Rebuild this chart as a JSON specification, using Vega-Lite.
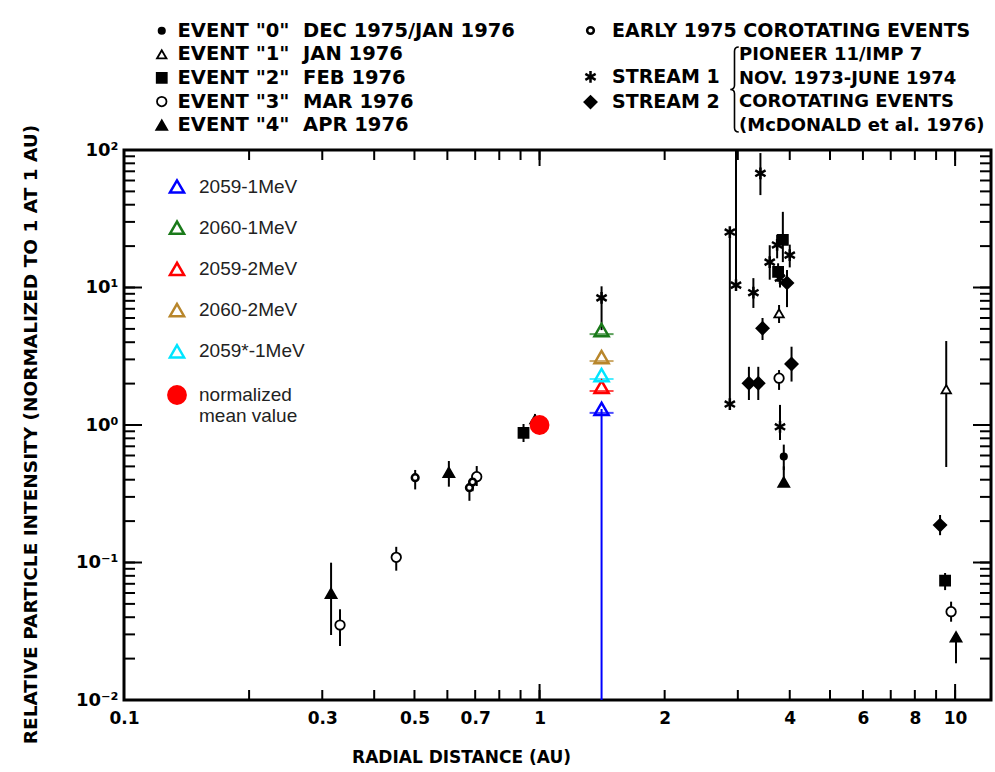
{
  "$schema": "https://vega.github.io/schema/vega-lite/v6.json",
  "width": 867,
  "height": 550,
  "autosize": {"type": "none"},
  "padding": {"left": 124, "top": 150, "right": 4, "bottom": 72},
  "background": "white",
  "config": {
    "view": {"stroke": "black", "strokeWidth": 3},
    "legend": {"padding": 0, "labelLimit": 1000}
  },
  "datasets": {
    "pts": [
      {"kind": "event", "label": "EVENT \"0\"\u00a0 DEC 1975/JAN 1976", "r": 1.02, "v": 0.97, "lo": 0.86, "hi": 1.1},
      {"kind": "event", "label": "EVENT \"0\"\u00a0 DEC 1975/JAN 1976", "r": 3.87, "v": 0.59, "lo": 0.47, "hi": 0.72},
      {"kind": "event", "label": "EVENT \"1\"\u00a0 JAN 1976", "r": 0.975, "v": 1.1, "lo": 1.0, "hi": 1.2},
      {"kind": "event", "label": "EVENT \"1\"\u00a0 JAN 1976", "r": 3.77, "v": 6.49, "lo": 5.52, "hi": 7.46},
      {"kind": "event", "label": "EVENT \"1\"\u00a0 JAN 1976", "r": 9.52, "v": 1.82, "lo": 0.495, "hi": 4.08},
      {"kind": "event", "label": "EVENT \"2\"\u00a0 FEB 1976", "r": 0.915, "v": 0.875, "lo": 0.752, "hi": 1.017},
      {"kind": "event", "label": "EVENT \"2\"\u00a0 FEB 1976", "r": 3.85, "v": 22.2, "lo": 15.3, "hi": 35.5},
      {"kind": "event", "label": "EVENT \"2\"\u00a0 FEB 1976", "r": 3.75, "v": 13, "lo": 11, "hi": 15},
      {"kind": "event", "label": "EVENT \"2\"\u00a0 FEB 1976", "r": 9.46, "v": 0.0737, "lo": 0.063, "hi": 0.0839},
      {"kind": "event", "label": "EVENT \"3\"\u00a0 MAR 1976", "r": 0.331, "v": 0.0351, "lo": 0.0247, "hi": 0.0457},
      {"kind": "event", "label": "EVENT \"3\"\u00a0 MAR 1976", "r": 0.452, "v": 0.109, "lo": 0.0872, "hi": 0.13},
      {"kind": "event", "label": "EVENT \"3\"\u00a0 MAR 1976", "r": 0.706, "v": 0.421, "lo": 0.36, "hi": 0.503},
      {"kind": "event", "label": "EVENT \"3\"\u00a0 MAR 1976", "r": 3.77, "v": 2.19, "lo": 1.8, "hi": 2.51},
      {"kind": "event", "label": "EVENT \"3\"\u00a0 MAR 1976", "r": 9.78, "v": 0.0439, "lo": 0.0371, "hi": 0.0519},
      {"kind": "event", "label": "EVENT \"4\"\u00a0 APR 1976", "r": 0.315, "v": 0.0597, "lo": 0.0297, "hi": 0.0997},
      {"kind": "event", "label": "EVENT \"4\"\u00a0 APR 1976", "r": 0.605, "v": 0.453, "lo": 0.356, "hi": 0.547},
      {"kind": "event", "label": "EVENT \"4\"\u00a0 APR 1976", "r": 3.87, "v": 0.385, "lo": 0.36, "hi": 0.5},
      {"kind": "event", "label": "EVENT \"4\"\u00a0 APR 1976", "r": 10.05, "v": 0.0288, "lo": 0.0185, "hi": 0.031},
      {"kind": "corot", "label": "EARLY 1975 COROTATING EVENTS", "r": 0.502, "v": 0.414, "lo": 0.34, "hi": 0.471},
      {"kind": "corot", "label": "EARLY 1975 COROTATING EVENTS", "r": 0.678, "v": 0.35, "lo": 0.281, "hi": 0.387},
      {"kind": "corot", "label": "EARLY 1975 COROTATING EVENTS", "r": 0.69, "v": 0.385, "lo": 0.33, "hi": 0.43},
      {"kind": "corot", "label": "STREAM 1", "r": 1.41, "v": 8.4, "lo": 4.9, "hi": 10.2},
      {"kind": "corot", "label": "STREAM 1", "r": 2.87, "v": 25.3, "lo": 1.42, "hi": 25.3},
      {"kind": "corot", "label": "STREAM 1", "r": 2.87, "v": 1.42, "lo": 1.42, "hi": 1.42},
      {"kind": "corot", "label": "STREAM 1", "r": 2.97, "v": 10.4, "lo": 10.4, "hi": 100},
      {"kind": "corot", "label": "STREAM 1", "r": 3.4, "v": 67.7, "lo": 47, "hi": 95},
      {"kind": "corot", "label": "STREAM 1", "r": 3.27, "v": 9.17, "lo": 7.1, "hi": 11.7},
      {"kind": "corot", "label": "STREAM 1", "r": 3.58, "v": 15.3, "lo": 11.4, "hi": 20.3},
      {"kind": "corot", "label": "STREAM 1", "r": 3.73, "v": 20.4, "lo": 16.3, "hi": 24.2},
      {"kind": "corot", "label": "STREAM 1", "r": 4.0, "v": 17.2, "lo": 14, "hi": 20.5},
      {"kind": "corot", "label": "STREAM 1", "r": 3.79, "v": 11.7, "lo": 10, "hi": 13.5},
      {"kind": "corot", "label": "STREAM 1", "r": 3.79, "v": 0.97, "lo": 0.778, "hi": 1.4},
      {"kind": "corot", "label": "STREAM 2", "r": 3.44, "v": 5.05, "lo": 4.15, "hi": 6.0},
      {"kind": "corot", "label": "STREAM 2", "r": 3.19, "v": 2.01, "lo": 1.52, "hi": 2.65},
      {"kind": "corot", "label": "STREAM 2", "r": 3.36, "v": 2.01, "lo": 1.52, "hi": 2.65},
      {"kind": "corot", "label": "STREAM 2", "r": 4.04, "v": 2.78, "lo": 2.07, "hi": 3.71},
      {"kind": "corot", "label": "STREAM 2", "r": 3.94, "v": 10.8, "lo": 7.2, "hi": 13.4},
      {"kind": "corot", "label": "STREAM 2", "r": 9.2, "v": 0.187, "lo": 0.158, "hi": 0.2215}
    ],
    "he": [
      {"label": "2059-1MeV", "r": 1.41, "v": 1.31, "lo": 0.01, "hi": 1.31},
      {"label": "2060-1MeV", "r": 1.41, "v": 4.9, "lo": 4.9, "hi": 4.9},
      {"label": "2059-2MeV", "r": 1.41, "v": 1.89, "lo": 1.89, "hi": 1.89},
      {"label": "2060-2MeV", "r": 1.41, "v": 3.12, "lo": 3.12, "hi": 3.12},
      {"label": "2059*-1MeV", "r": 1.41, "v": 2.31, "lo": 2.31, "hi": 2.31},
      {"label": "normalized mean value", "r": 1.0, "v": 1.0, "lo": 1.0, "hi": 1.0}
    ],
    "xt": [
      {"t": 0.2, "k": "minor"}, {"t": 0.3, "k": "minor"}, {"t": 0.4, "k": "minor"}, {"t": 0.5, "k": "minor"},
      {"t": 0.6, "k": "minor"}, {"t": 0.7, "k": "minor"}, {"t": 0.8, "k": "minor"}, {"t": 0.9, "k": "minor"},
      {"t": 1, "k": "major"}, {"t": 2, "k": "minor"}, {"t": 3, "k": "minor"}, {"t": 4, "k": "minor"},
      {"t": 5, "k": "minor"}, {"t": 6, "k": "minor"}, {"t": 7, "k": "minor"}, {"t": 8, "k": "minor"},
      {"t": 9, "k": "minor"}, {"t": 10, "k": "major"}
    ],
    "yt": [
      {"t": 0.02, "k": "minor"}, {"t": 0.03, "k": "minor"}, {"t": 0.04, "k": "minor"}, {"t": 0.05, "k": "minor"},
      {"t": 0.06, "k": "minor"}, {"t": 0.07, "k": "minor"}, {"t": 0.08, "k": "minor"}, {"t": 0.09, "k": "minor"},
      {"t": 0.1, "k": "major"}, {"t": 0.2, "k": "minor"}, {"t": 0.3, "k": "minor"}, {"t": 0.4, "k": "minor"},
      {"t": 0.5, "k": "minor"}, {"t": 0.6, "k": "minor"}, {"t": 0.7, "k": "minor"}, {"t": 0.8, "k": "minor"},
      {"t": 0.9, "k": "minor"}, {"t": 1, "k": "major"}, {"t": 2, "k": "minor"}, {"t": 3, "k": "minor"},
      {"t": 4, "k": "minor"}, {"t": 5, "k": "minor"}, {"t": 6, "k": "minor"}, {"t": 7, "k": "minor"},
      {"t": 8, "k": "minor"}, {"t": 9, "k": "minor"}, {"t": 10, "k": "major"}, {"t": 20, "k": "minor"},
      {"t": 30, "k": "minor"}, {"t": 40, "k": "minor"}, {"t": 50, "k": "minor"}, {"t": 60, "k": "minor"},
      {"t": 70, "k": "minor"}, {"t": 80, "k": "minor"}, {"t": 90, "k": "minor"}
    ],
    "brace": [{"b": "brace"}],
    "note": [
      {"n": "PIONEER 11/IMP 7"},
      {"n": "NOV. 1973-JUNE 1974"},
      {"n": "COROTATING EVENTS"},
      {"n": "(McDONALD et al. 1976)"}
    ]
  },
  "layer": [
    {
      "data": {"name": "pts"},
      "mark": {"type": "rule", "color": "black", "strokeWidth": 2},
      "encoding": {
        "x": {
          "field": "r", "type": "quantitative",
          "scale": {"type": "log", "domain": [0.1, 12.2], "nice": false},
          "axis": {
            "orient": "bottom",
            "values": [0.1, 0.2, 0.3, 0.4, 0.5, 0.6, 0.7, 0.8, 0.9, 1, 2, 3, 4, 5, 6, 7, 8, 9, 10],
            "domain": false, "ticks": false, "tickSize": 0, "grid": false,
            "labelPadding": 10,
            "format": "~g",
            "labelExpr": "(datum.value === 0.1 || datum.value === 0.3 || datum.value === 0.5 || datum.value === 0.7 || datum.value === 1 || datum.value === 2 || datum.value === 4 || datum.value === 6 || datum.value === 8 || datum.value === 10) ? datum.label : ''",
            "labelFont": "DejaVu Sans", "labelFontWeight": "bold", "labelFontSize": 17, "labelColor": "black",
            "labelFlush": false, "labelOverlap": false,
            "title": "RADIAL DISTANCE (AU)",
            "titleFont": "DejaVu Sans", "titleFontWeight": "bold", "titleFontSize": 17, "titleColor": "black",
            "titleX": 337, "titleY": 62, "titleBaseline": "alphabetic", "titleAlign": "center"
          }
        },
        "y": {
          "field": "lo", "type": "quantitative",
          "scale": {"type": "log", "domain": [0.01, 100], "nice": false},
          "axis": {
            "orient": "left",
            "values": [0.01, 0.1, 1, 10, 100],
            "domain": false, "ticks": false, "tickSize": 0, "grid": false,
            "labelPadding": 6,
            "labelExpr": "datum.value === 100 ? '10²' : datum.value === 10 ? '10¹' : datum.value === 1 ? '10⁰' : datum.value === 0.1 ? '10⁻¹' : datum.value === 0.01 ? '10⁻²' : ''",
            "labelFont": "DejaVu Sans", "labelFontWeight": "bold", "labelFontSize": 18, "labelColor": "black",
            "labelFlush": false, "labelOverlap": false,
            "title": "RELATIVE PARTICLE INTENSITY (NORMALIZED TO 1 AT 1 AU)",
            "titleFont": "DejaVu Sans", "titleFontWeight": "bold", "titleFontSize": 18.5, "titleColor": "black",
            "titleX": -88, "titleY": 284, "titleBaseline": "alphabetic", "titleAlign": "center", "titleAngle": 270
          }
        },
        "y2": {"field": "hi"}
      }
    },
    {
      "data": {"name": "xt"},
      "mark": {"type": "rule", "color": "black", "strokeWidth": 2, "y2Offset": -10},
      "encoding": {
        "x": {"field": "t", "type": "quantitative", "scale": {"type": "log", "domain": [0.1, 12.2], "nice": false}, "axis": null},
        "y": {"datum": 0.01, "type": "quantitative", "scale": {"type": "log", "domain": [0.01, 100], "nice": false}, "axis": null},
        "y2": {"datum": 0.01}
      }
    },
    {
      "data": {"name": "xt"},
      "mark": {"type": "rule", "color": "black", "strokeWidth": 2, "y2Offset": 10},
      "encoding": {
        "x": {"field": "t", "type": "quantitative", "scale": {"type": "log", "domain": [0.1, 12.2], "nice": false}, "axis": null},
        "y": {"datum": 100, "type": "quantitative", "scale": {"type": "log", "domain": [0.01, 100], "nice": false}, "axis": null},
        "y2": {"datum": 100}
      }
    },
    {
      "data": {"name": "xt"},
      "transform": [{"filter": "datum.k === 'major'"}],
      "mark": {"type": "rule", "color": "black", "strokeWidth": 2, "y2Offset": -16},
      "encoding": {
        "x": {"field": "t", "type": "quantitative", "scale": {"type": "log", "domain": [0.1, 12.2], "nice": false}, "axis": null},
        "y": {"datum": 0.01, "type": "quantitative", "scale": {"type": "log", "domain": [0.01, 100], "nice": false}, "axis": null},
        "y2": {"datum": 0.01}
      }
    },
    {
      "data": {"name": "xt"},
      "transform": [{"filter": "datum.k === 'major'"}],
      "mark": {"type": "rule", "color": "black", "strokeWidth": 2, "y2Offset": 16},
      "encoding": {
        "x": {"field": "t", "type": "quantitative", "scale": {"type": "log", "domain": [0.1, 12.2], "nice": false}, "axis": null},
        "y": {"datum": 100, "type": "quantitative", "scale": {"type": "log", "domain": [0.01, 100], "nice": false}, "axis": null},
        "y2": {"datum": 100}
      }
    },
    {
      "data": {"name": "yt"},
      "mark": {"type": "rule", "color": "black", "strokeWidth": 2, "x2Offset": 11},
      "encoding": {
        "y": {"field": "t", "type": "quantitative", "scale": {"type": "log", "domain": [0.01, 100], "nice": false}, "axis": null},
        "x": {"datum": 0.1, "type": "quantitative", "scale": {"type": "log", "domain": [0.1, 12.2], "nice": false}, "axis": null},
        "x2": {"datum": 0.1}
      }
    },
    {
      "data": {"name": "yt"},
      "mark": {"type": "rule", "color": "black", "strokeWidth": 2, "x2Offset": -11},
      "encoding": {
        "y": {"field": "t", "type": "quantitative", "scale": {"type": "log", "domain": [0.01, 100], "nice": false}, "axis": null},
        "x": {"datum": 12.2, "type": "quantitative", "scale": {"type": "log", "domain": [0.1, 12.2], "nice": false}, "axis": null},
        "x2": {"datum": 12.2}
      }
    },
    {
      "data": {"name": "yt"},
      "transform": [{"filter": "datum.k === 'major'"}],
      "mark": {"type": "rule", "color": "black", "strokeWidth": 2, "x2Offset": 18},
      "encoding": {
        "y": {"field": "t", "type": "quantitative", "scale": {"type": "log", "domain": [0.01, 100], "nice": false}, "axis": null},
        "x": {"datum": 0.1, "type": "quantitative", "scale": {"type": "log", "domain": [0.1, 12.2], "nice": false}, "axis": null},
        "x2": {"datum": 0.1}
      }
    },
    {
      "data": {"name": "yt"},
      "transform": [{"filter": "datum.k === 'major'"}],
      "mark": {"type": "rule", "color": "black", "strokeWidth": 2, "x2Offset": -18},
      "encoding": {
        "y": {"field": "t", "type": "quantitative", "scale": {"type": "log", "domain": [0.01, 100], "nice": false}, "axis": null},
        "x": {"datum": 12.2, "type": "quantitative", "scale": {"type": "log", "domain": [0.1, 12.2], "nice": false}, "axis": null},
        "x2": {"datum": 12.2}
      }
    },
    {
      "data": {"name": "he"},
      "transform": [{"filter": "datum.label === '2059-1MeV'"}],
      "mark": {"type": "rule", "color": "#0000ff", "strokeWidth": 2},
      "encoding": {
        "x": {"field": "r", "type": "quantitative", "scale": {"type": "log", "domain": [0.1, 12.2], "nice": false}, "axis": null},
        "y": {"field": "lo", "type": "quantitative", "scale": {"type": "log", "domain": [0.01, 100], "nice": false}, "axis": null},
        "y2": {"field": "hi"}
      }
    },
    {
      "data": {"name": "pts"},
      "transform": [{"filter": "datum.kind === 'event'"}],
      "mark": {"type": "point", "color": "black", "stroke": "black", "strokeWidth": 1.8, "opacity": 1},
      "encoding": {
        "x": {"field": "r", "type": "quantitative", "scale": {"type": "log", "domain": [0.1, 12.2], "nice": false}, "axis": null},
        "y": {"field": "v", "type": "quantitative", "scale": {"type": "log", "domain": [0.01, 100], "nice": false}, "axis": null},
        "shape": {
          "field": "label", "type": "nominal",
          "scale": {
            "domain": ["EVENT \"0\"\u00a0 DEC 1975/JAN 1976", "EVENT \"1\"\u00a0 JAN 1976", "EVENT \"2\"\u00a0 FEB 1976", "EVENT \"3\"\u00a0 MAR 1976", "EVENT \"4\"\u00a0 APR 1976"],
            "range": ["circle", "triangle-up", "square", "circle", "triangle-up"]
          },
          "legend": {
            "orient": "none", "legendX": 28, "legendY": -129, "title": null,
            "labelFont": "DejaVu Sans", "labelFontWeight": "bold", "labelFontSize": 19.5, "labelColor": "black",
            "rowPadding": 2.6, "labelOffset": 6, "symbolStrokeColor": "black", "symbolStrokeWidth": 1.8
          }
        },
        "fill": {
          "field": "label", "type": "nominal",
          "scale": {
            "domain": ["EVENT \"0\"\u00a0 DEC 1975/JAN 1976", "EVENT \"1\"\u00a0 JAN 1976", "EVENT \"2\"\u00a0 FEB 1976", "EVENT \"3\"\u00a0 MAR 1976", "EVENT \"4\"\u00a0 APR 1976"],
            "range": ["black", "white", "black", "white", "black"]
          }
        },
        "size": {
          "field": "label", "type": "nominal",
          "scale": {
            "type": "ordinal",
            "domain": ["EVENT \"0\"\u00a0 DEC 1975/JAN 1976", "EVENT \"1\"\u00a0 JAN 1976", "EVENT \"2\"\u00a0 FEB 1976", "EVENT \"3\"\u00a0 MAR 1976", "EVENT \"4\"\u00a0 APR 1976"],
            "range": [40, 90, 100, 90, 120]
          }
        }
      }
    },
    {
      "data": {"name": "pts"},
      "transform": [{"filter": "datum.kind === 'corot'"}],
      "mark": {"type": "point", "color": "black", "stroke": "black", "strokeWidth": 2.5, "opacity": 1},
      "encoding": {
        "x": {"field": "r", "type": "quantitative", "scale": {"type": "log", "domain": [0.1, 12.2], "nice": false}, "axis": null},
        "y": {"field": "v", "type": "quantitative", "scale": {"type": "log", "domain": [0.01, 100], "nice": false}, "axis": null},
        "shape": {
          "field": "label", "type": "nominal",
          "scale": {
            "domain": ["EARLY 1975 COROTATING EVENTS", " ", "STREAM 1", "STREAM 2"],
            "range": ["circle", "M0,0", "M0,-1L0,1M-0.87,-0.5L0.87,0.5M-0.87,0.5L0.87,-0.5", "diamond"]
          },
          "legend": {
            "orient": "none", "legendX": 457, "legendY": -129, "title": null,
            "labelFont": "DejaVu Sans", "labelFontWeight": "bold", "labelFontSize": 19, "labelColor": "black",
            "rowPadding": 2.2, "labelOffset": 12, "symbolStrokeColor": "black", "symbolStrokeWidth": 2.5
          }
        },
        "fill": {
          "field": "label", "type": "nominal",
          "scale": {
            "domain": ["EARLY 1975 COROTATING EVENTS", " ", "STREAM 1", "STREAM 2"],
            "range": ["white", "transparent", "black", "black"]
          }
        },
        "size": {
          "field": "label", "type": "nominal",
          "scale": {
            "type": "ordinal",
            "domain": ["EARLY 1975 COROTATING EVENTS", " ", "STREAM 1", "STREAM 2"],
            "range": [45, 1, 140, 130]
          }
        }
      }
    },
    {
      "data": {"name": "he"},
      "transform": [{"filter": "datum.label !== 'normalized mean value'"}],
      "mark": {"type": "tick", "orient": "horizontal", "size": 24, "thickness": 2, "yOffset": 4},
      "encoding": {
        "x": {"field": "r", "type": "quantitative", "scale": {"type": "log", "domain": [0.1, 12.2], "nice": false}, "axis": null},
        "y": {"field": "v", "type": "quantitative", "scale": {"type": "log", "domain": [0.01, 100], "nice": false}, "axis": null},
        "color": {
          "field": "label", "type": "nominal", "legend": null,
          "scale": {
            "domain": ["2059-1MeV", "2060-1MeV", "2059-2MeV", "2060-2MeV", "2059*-1MeV"],
            "range": ["#0000ff", "#1a7a1a", "#ff0000", "#b8862b", "#00e5ff"]
          }
        }
      }
    },
    {
      "data": {"name": "he"},
      "mark": {"type": "point", "strokeWidth": 2.5, "opacity": 1},
      "encoding": {
        "x": {"field": "r", "type": "quantitative", "scale": {"type": "log", "domain": [0.1, 12.2], "nice": false}, "axis": null},
        "y": {"field": "v", "type": "quantitative", "scale": {"type": "log", "domain": [0.01, 100], "nice": false}, "axis": null},
        "shape": {
          "field": "label", "type": "nominal",
          "scale": {
            "domain": ["2059-1MeV", "2060-1MeV", "2059-2MeV", "2060-2MeV", "2059*-1MeV", "normalized mean value"],
            "range": ["triangle-up", "triangle-up", "triangle-up", "triangle-up", "triangle-up", "circle"]
          },
          "legend": {
            "orient": "none", "legendX": 43, "legendY": 27, "title": null,
            "labelFont": "Liberation Sans", "labelFontSize": 19, "labelColor": "#222222",
            "rowPadding": 18.2, "labelOffset": 12, "symbolStrokeWidth": 2.5,
            "labelExpr": "datum.label === 'normalized mean value' ? ['normalized', 'mean value'] : datum.label"
          }
        },
        "stroke": {
          "field": "label", "type": "nominal",
          "scale": {
            "domain": ["2059-1MeV", "2060-1MeV", "2059-2MeV", "2060-2MeV", "2059*-1MeV", "normalized mean value"],
            "range": ["#0000ff", "#1a7a1a", "#ff0000", "#b8862b", "#00e5ff", "#ff0000"]
          }
        },
        "fill": {
          "field": "label", "type": "nominal",
          "scale": {
            "domain": ["2059-1MeV", "2060-1MeV", "2059-2MeV", "2060-2MeV", "2059*-1MeV", "normalized mean value"],
            "range": ["transparent", "transparent", "transparent", "transparent", "transparent", "#ff0000"]
          }
        },
        "size": {
          "field": "label", "type": "nominal",
          "scale": {
            "type": "ordinal",
            "domain": ["2059-1MeV", "2060-1MeV", "2059-2MeV", "2060-2MeV", "2059*-1MeV", "normalized mean value"],
            "range": [200, 200, 200, 200, 200, 300]
          }
        }
      }
    },
    {
      "data": {"name": "brace"},
      "transform": [{"filter": "false"}],
      "mark": {"type": "point", "color": "black"},
      "encoding": {
        "shape": {
          "field": "b", "type": "nominal",
          "scale": {"domain": ["brace"], "range": ["M0.1,-1Q0,-1 0,-0.9L0,-0.1Q0,0 -0.1,0Q0,0 0,0.1L0,0.9Q0,1 0.1,1"]},
          "legend": {
            "orient": "none", "legendX": 567, "legendY": -104, "title": null,
            "symbolSize": 7225, "symbolStrokeColor": "black", "symbolStrokeWidth": 1.6,
            "symbolFillColor": "transparent", "symbolOpacity": 1, "labelExpr": "''"
          }
        }
      }
    },
    {
      "data": {"name": "note"},
      "transform": [{"filter": "false"}],
      "mark": {"type": "point", "color": "black"},
      "encoding": {
        "shape": {
          "field": "n", "type": "nominal",
          "scale": {
            "domain": ["PIONEER 11/IMP 7", "NOV. 1973-JUNE 1974", "COROTATING EVENTS", "(McDONALD et al. 1976)"],
            "range": ["M0,0", "M0,0", "M0,0", "M0,0"]
          },
          "legend": {
            "orient": "none", "legendX": 597, "legendY": -104, "title": null,
            "symbolSize": 1, "labelOffset": 0,
            "labelFont": "DejaVu Sans", "labelFontWeight": "bold", "labelFontSize": 18, "labelColor": "black",
            "rowPadding": 5.5
          }
        }
      }
    }
  ],
  "resolve": {
    "scale": {"shape": "independent", "fill": "independent", "stroke": "independent", "size": "independent", "color": "independent"},
    "axis": {"x": "independent", "y": "independent"}
  }
}
